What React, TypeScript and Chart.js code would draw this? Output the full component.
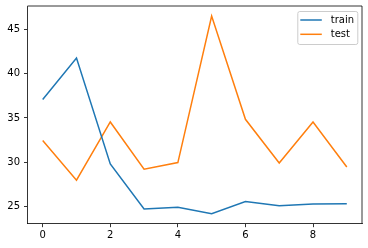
import React, { useEffect, useRef } from "react";
import { Chart, registerables } from "chart.js";

Chart.register(...registerables);

const epochs = [0, 1, 2, 3, 4, 5, 6, 7, 8, 9];
const trainValues = [37.1, 41.8, 29.8, 24.7, 24.9, 24.15, 25.55, 25.05, 25.25, 25.3];
const testValues = [32.45, 27.95, 34.55, 29.2, 29.95, 46.55, 34.85, 29.9, 34.55, 29.45];
const xTickValues = [0, 2, 4, 6, 8];
const yTickValues = [25, 30, 35, 40, 45];
const seriesLabels = ["train", "test"];
const seriesColors = ["#1f77b4", "#ff7f0e"];

const FONT = "DejaVu Sans";

const legendPlugin = {
  id: "mplLegend",
  afterDraw(chart: any) {
    const ctx = chart.ctx;
    const area = chart.chartArea;
    const boxW = 60;
    const boxH = 33;
    const x0 = area.right - 4.7 - boxW;
    const y0 = area.top + 5;
    ctx.save();
    ctx.fillStyle = "rgba(255,255,255,0.8)";
    ctx.strokeStyle = "#cccccc";
    ctx.lineWidth = 1;
    const r = 2;
    ctx.beginPath();
    ctx.moveTo(x0 + 0.5 + r, y0 + 0.5);
    ctx.lineTo(x0 + 0.5 + boxW - r, y0 + 0.5);
    ctx.arcTo(x0 + 0.5 + boxW, y0 + 0.5, x0 + 0.5 + boxW, y0 + 0.5 + r, r);
    ctx.lineTo(x0 + 0.5 + boxW, y0 + 0.5 + boxH - r);
    ctx.arcTo(x0 + 0.5 + boxW, y0 + 0.5 + boxH, x0 + 0.5 + boxW - r, y0 + 0.5 + boxH, r);
    ctx.lineTo(x0 + 0.5 + r, y0 + 0.5 + boxH);
    ctx.arcTo(x0 + 0.5, y0 + 0.5 + boxH, x0 + 0.5, y0 + 0.5 + boxH - r, r);
    ctx.lineTo(x0 + 0.5, y0 + 0.5 + r);
    ctx.arcTo(x0 + 0.5, y0 + 0.5, x0 + 0.5 + r, y0 + 0.5, r);
    ctx.closePath();
    ctx.fill();
    ctx.stroke();
    chart.data.datasets.forEach((ds: any, i: number) => {
      const ly = y0 + 9 + i * 14.3;
      ctx.strokeStyle = ds.borderColor;
      ctx.lineWidth = 1.5;
      ctx.beginPath();
      ctx.moveTo(x0 + 3, ly);
      ctx.lineTo(x0 + 24.5, ly);
      ctx.stroke();
      ctx.fillStyle = "#000";
      ctx.font = `10px "${FONT}"`;
      ctx.textBaseline = "middle";
      ctx.textAlign = "left";
      ctx.fillText(ds.label, x0 + 33.5, ly);
    });
    ctx.restore();
  },
};

function zeroPad(scale: any) {
  scale.paddingTop = 0;
  scale.paddingBottom = 0;
  scale.paddingLeft = 0;
  scale.paddingRight = 0;
}

export default function App() {
  const ref = useRef<HTMLCanvasElement | null>(null);
  useEffect(() => {
    document.body.style.margin = "0";
    const canvas = ref.current!;
    const chart = new Chart(canvas, {
      type: "line",
      data: {
        datasets: [trainValues, testValues].map((vals, i) => ({
          label: seriesLabels[i],
          data: vals.map((v, j) => ({ x: epochs[j], y: v })),
          borderColor: seriesColors[i],
          backgroundColor: seriesColors[i],
          borderWidth: 1.5,
          pointRadius: 0,
          tension: 0,
          fill: false,
        })),
      },
      options: {
        responsive: false,
        animation: false,
        devicePixelRatio: 1,
        layout: { padding: { top: 6, right: 6, left: 0, bottom: 0 } },
        plugins: {
          legend: { display: false },
          tooltip: { enabled: false },
        },
        scales: {
          x: {
            type: "linear",
            min: -0.45,
            max: 9.45,
            afterFit(scale: any) {
              scale.height = 24.3;
              zeroPad(scale);
            },
            afterBuildTicks(scale: any) {
              scale.ticks = xTickValues.map((v) => ({ value: v }));
            },
            grid: {
              display: true,
              drawOnChartArea: false,
              drawTicks: true,
              tickLength: 3.5,
              color: "#000",
              lineWidth: 0.8,
            },
            border: { display: true, color: "#000", width: 0.8 },
            ticks: {
              color: "#000",
              font: { family: FONT, size: 10 },
              padding: 2,
              maxRotation: 0,
              autoSkip: false,
              callback: (v: any) => String(v),
            },
          },
          y: {
            type: "linear",
            min: 23.03,
            max: 47.68,
            afterFit(scale: any) {
              scale.width = 27.5;
              zeroPad(scale);
            },
            afterBuildTicks(scale: any) {
              scale.ticks = yTickValues.map((v) => ({ value: v }));
            },
            grid: {
              display: true,
              drawOnChartArea: false,
              drawTicks: true,
              tickLength: 3.5,
              color: "#000",
              lineWidth: 0.8,
            },
            border: { display: true, color: "#000", width: 0.8 },
            ticks: {
              color: "#000",
              font: { family: FONT, size: 10 },
              padding: 4,
              autoSkip: false,
              callback: (v: any) => String(v),
            },
          },
        },
      },
      plugins: [
        {
          id: "frame",
          afterDatasetsDraw(c: any) {
            const a = c.chartArea;
            const ctx = c.ctx;
            ctx.save();
            ctx.strokeStyle = "#000";
            ctx.lineWidth = 0.8;
            ctx.beginPath();
            ctx.moveTo(a.left, a.top);
            ctx.lineTo(a.right, a.top);
            ctx.lineTo(a.right, a.bottom);
            ctx.stroke();
            ctx.restore();
          },
        },
        legendPlugin,
      ],
    } as any);
    return () => chart.destroy();
  }, []);
  return (
    <div style={{ position: "absolute", left: 0, top: 0, width: 368, height: 248, background: "#fff" }}>
      <canvas ref={ref} width={368} height={248} style={{ display: "block", width: 368, height: 248 }} />
    </div>
  );
}
